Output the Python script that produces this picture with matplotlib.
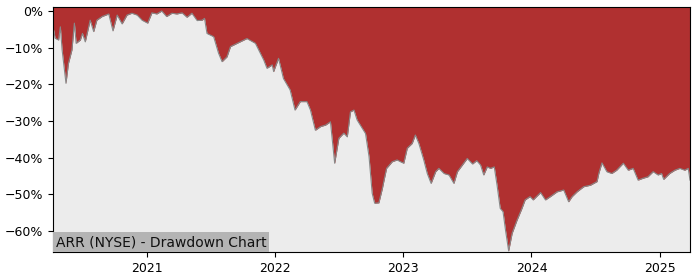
import matplotlib
matplotlib.use("Agg")
import matplotlib.pyplot as plt
import matplotlib.dates as mdates
import matplotlib.ticker as mticker
import pandas as pd

# drawdown of ARR (percent)
dates = [
    "2020-04-07", "2020-04-09", "2020-04-13", "2020-04-23", "2020-04-28", "2020-05-03", "2020-05-14",
    "2020-05-21", "2020-05-31", "2020-06-07", "2020-06-12", "2020-06-24", "2020-06-30",
    "2020-07-08", "2020-07-22", "2020-08-01", "2020-08-10", "2020-08-25", "2020-09-13",
    "2020-09-25", "2020-10-07", "2020-10-21", "2020-11-04", "2020-11-18", "2020-12-03",
    "2020-12-17", "2021-01-02", "2021-01-14", "2021-01-28", "2021-02-11", "2021-02-25",
    "2021-03-12", "2021-03-26", "2021-04-10", "2021-04-24", "2021-05-08", "2021-05-23",
    "2021-06-06", "2021-06-13", "2021-06-20", "2021-07-09", "2021-07-23", "2021-08-02",
    "2021-08-16", "2021-08-26", "2021-09-14", "2021-10-12", "2021-11-05", "2021-11-29",
    "2021-12-08", "2021-12-23", "2021-12-27", "2022-01-10", "2022-01-24", "2022-02-12",
    "2022-02-26", "2022-03-13", "2022-04-01", "2022-04-11", "2022-04-25", "2022-05-10",
    "2022-05-24", "2022-06-07", "2022-06-19", "2022-07-01", "2022-07-15", "2022-07-25",
    "2022-08-03", "2022-08-13", "2022-08-22", "2022-09-06", "2022-09-15", "2022-09-25",
    "2022-10-04", "2022-10-11", "2022-10-23", "2022-11-02", "2022-11-06", "2022-11-14",
    "2022-11-30", "2022-12-14", "2022-12-24", "2023-01-02", "2023-01-12", "2023-01-26",
    "2023-02-04", "2023-02-14", "2023-02-28", "2023-03-10", "2023-03-21", "2023-04-03",
    "2023-04-12", "2023-04-27", "2023-05-11", "2023-05-25", "2023-06-04", "2023-06-18",
    "2023-07-02", "2023-07-17", "2023-07-29", "2023-08-09", "2023-08-18", "2023-08-28",
    "2023-09-06", "2023-09-17", "2023-09-25", "2023-10-04", "2023-10-12", "2023-10-19",
    "2023-10-28", "2023-11-07", "2023-11-21", "2023-12-05", "2023-12-14", "2023-12-28",
    "2024-01-06", "2024-01-27", "2024-02-10", "2024-02-24", "2024-03-14", "2024-04-02",
    "2024-04-16", "2024-04-26", "2024-05-10", "2024-05-29", "2024-06-17", "2024-07-06",
    "2024-07-11", "2024-07-20", "2024-08-03", "2024-08-17", "2024-08-31", "2024-09-19",
    "2024-10-03", "2024-10-17", "2024-10-31", "2024-11-14", "2024-11-28", "2024-12-13",
    "2024-12-27", "2025-01-06", "2025-01-12", "2025-01-29", "2025-02-13", "2025-02-27",
    "2025-03-13", "2025-03-23", "2025-03-28",
]
drawdown = [
    -5.0, -5.2, -7.4, -7.9, -4.3, -10.6, -19.7,
    -14.3, -10.6, -3.3, -8.8, -7.9, -6.1,
    -8.4, -2.5, -5.6, -2.5, -1.5, -0.8,
    -5.4, -1.1, -3.5, -1.1, -0.6, -1.1,
    -2.5, -3.3, -0.5, -0.8, 0.0, -1.5,
    -0.6, -0.8, -0.5, -1.7, -0.6, -2.6,
    -2.5, -2.0, -6.1, -7.0, -11.5, -13.8,
    -12.5, -9.7, -8.8, -7.5, -8.8, -13.4,
    -15.6, -14.7, -16.5, -12.9, -18.4, -21.5,
    -27.0, -24.7, -24.7, -27.0, -32.5, -31.5,
    -31.1, -30.2, -41.5, -34.7, -33.3, -34.3,
    -27.5, -27.0, -29.7, -32.0, -33.4, -39.7,
    -49.7, -52.4, -52.3, -48.4, -46.5, -42.9,
    -41.1, -40.6, -41.1, -41.5, -37.4, -36.1,
    -33.8, -36.1, -40.6, -44.3, -47.0, -43.8,
    -42.9, -44.3, -44.7, -47.0, -43.8, -42.0,
    -40.2, -41.7, -40.8, -42.0, -44.7, -42.5,
    -42.9, -42.5, -47.5, -53.8, -54.7, -59.7,
    -65.4, -60.6, -57.0, -53.8, -51.5, -50.6,
    -51.5, -49.5, -51.5, -50.6, -49.3, -48.8,
    -52.0, -50.6, -49.3, -47.9, -47.5, -46.5,
    -44.3, -41.4, -43.8, -44.3, -43.4, -41.5,
    -43.4, -42.9, -46.1, -45.6, -45.2, -43.8,
    -44.7, -44.3, -45.9, -44.3, -43.4, -42.9,
    -43.4, -42.9, -46.1,
]
label = "ARR (NYSE) - Drawdown Chart"

df = pd.DataFrame({"date": pd.to_datetime(dates), "dd": drawdown})
top = 1.1

fig = plt.figure(figsize=(7, 2.8), dpi=100)
ax = fig.add_axes([0.0757, 0.1, 0.91, 0.875])
ax.set_facecolor("#ececec")

# red area from the drawdown line up to the top of the axes
ax.fill_between(df["date"], df["dd"], top, color="#b03030", linewidth=0)
ax.plot(df["date"], df["dd"], color="#888888", linewidth=0.8)

ax.set_xlim(df["date"].min(), df["date"].max())
ax.set_ylim(-65.7, top)
ax.yaxis.set_major_locator(mticker.MultipleLocator(10))
ax.yaxis.set_major_formatter(mticker.FuncFormatter(lambda v, p: f"{v:.0f}%".replace("-", "\u2212")))
ax.xaxis.set_major_locator(mdates.YearLocator())
ax.xaxis.set_major_formatter(mdates.DateFormatter("%Y"))
ax.tick_params(labelsize=9)

ax.text(0.004, 0.012, label, transform=ax.transAxes, fontsize=10, color="#111111",
        va="bottom", ha="left",
        bbox=dict(facecolor="#b4b4b4", edgecolor="none", pad=2))

plt.savefig("out.png", dpi=100)
